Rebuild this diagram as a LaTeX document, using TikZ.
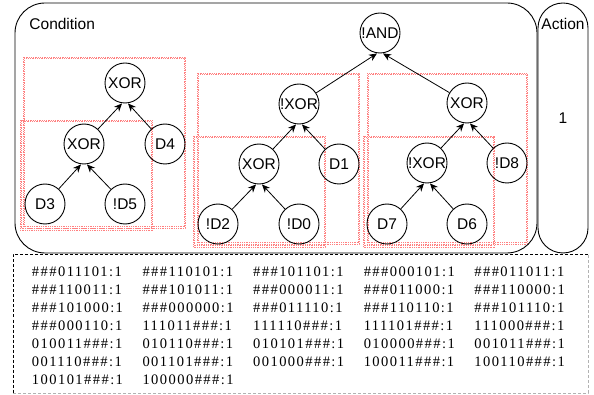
\documentclass[tikz,border=0pt]{standalone}
\usepackage{fontspec}
\setmainfont{Liberation Serif}
\setsansfont{Liberation Sans}
\newfontfamily\rulefont[LetterSpace=10]{Liberation Serif}
\usetikzlibrary{arrows.meta}

\begin{document}
\begin{tikzpicture}[x=1pt, y=-1pt, line width=0.9pt,
	gate/.style={circle, draw, minimum size=40pt, inner sep=0pt, font=\sffamily\fontsize{15.5}{18}\selectfont},
	arr/.style={-{Stealth[length=8pt, width=7pt, inset=2.5pt]}, line width=0.8pt},
	hl/.style={draw=red!50, line width=0.6pt, dash pattern=on 1pt off 0.8pt},
	lbl/.style={font=\sffamily\fontsize{15.5}{18}\selectfont, inner sep=0pt},
	rule/.style={font=\rulefont\fontsize{14.5}{17}\selectfont, inner sep=0pt, anchor=west}]
		\useasboundingbox (0,0) rectangle (594,395);

		% condition and action
		\draw[rounded corners=30pt] (15,3) rectangle (537,253);
		\draw[rounded corners=25pt] (538,3) rectangle (588,253);
		\node[lbl, anchor=west] (cond) at (29,24) {Condition};
		\node[lbl] (act) at (563,24) {Action};
		\node[lbl] (val) at (563,118) {1};

		% subtree boxes
		\foreach \xa/\ya/\xb/\yb in {23/57/185/228, 20/120/152/230, 197/73/359/244,
				193/136/325/247, 367/73/527/244, 363/136/494/247} {
			\draw[hl] (\xa,\ya) rectangle (\xb,\yb);
			\draw[hl] (\xa+1.2,\ya+1.2) rectangle (\xb-1.2,\yb-1.2);
		}

		% left tree
		\node[gate] (xa) at (125,83) {XOR};
		\node[gate] (xb) at (84,144) {XOR};
		\node[gate] (d4) at (165,144) {D4};
		\node[gate] (d3) at (45,204) {D3};
		\node[gate] (nd5) at (125,204) {!D5};
		\draw[arr] (xb) -- ([xshift=-3pt]xa.south);
		\draw[arr] (d4) -- ([xshift=3pt]xa.south);
		\draw[arr] (d3) -- ([xshift=-3pt]xb.south);
		\draw[arr] (nd5) -- ([xshift=3pt]xb.south);

		% right tree
		\node[gate] (nand) at (380,33) {!AND};
		\node[gate] (nxa) at (299,104) {!XOR};
		\node[gate] (xc) at (259,164) {XOR};
		\node[gate] (d1) at (339,164) {D1};
		\node[gate] (nd2) at (218,224) {!D2};
		\node[gate] (nd0) at (299,224) {!D0};
		\node[gate] (xd) at (467,103) {XOR};
		\node[gate] (nxb) at (427,163) {!XOR};
		\node[gate] (nd8) at (507,163) {!D8};
		\node[gate] (d7) at (387,224) {D7};
		\node[gate] (d6) at (467,224) {D6};
		\draw[arr] (nxa) -- ([xshift=-3pt]nand.south);
		\draw[arr] (xd) -- ([xshift=3pt]nand.south);
		\draw[arr] (xc) -- ([xshift=-3pt]nxa.south);
		\draw[arr] (d1) -- ([xshift=3pt]nxa.south);
		\draw[arr] (nd2) -- ([xshift=-3pt]xc.south);
		\draw[arr] (nd0) -- ([xshift=3pt]xc.south);
		\draw[arr] (nxb) -- ([xshift=-3pt]xd.south);
		\draw[arr] (nd8) -- ([xshift=3pt]xd.south);
		\draw[arr] (d7) -- ([xshift=-3pt]nxb.south);
		\draw[arr] (d6) -- ([xshift=3pt]nxb.south);

		% rule set
		\draw[dash pattern=on 3pt off 2pt] (588,254.5) -- (13,254.5) -- (13,393);
		\draw[dash pattern=on 3pt off 2pt, gray!60] (13,393) -- (588,393) -- (588,254.5);
		\foreach \t [count=\i from 0] in {\#\#\#011101:1, \#\#\#110101:1, \#\#\#101101:1, \#\#\#000101:1, \#\#\#011011:1,
				\#\#\#110011:1, \#\#\#101011:1, \#\#\#000011:1, \#\#\#011000:1, \#\#\#110000:1,
				\#\#\#101000:1, \#\#\#000000:1, \#\#\#011110:1, \#\#\#110110:1, \#\#\#101110:1,
				\#\#\#000110:1, 111011\#\#\#:1, 111110\#\#\#:1, 111101\#\#\#:1, 111000\#\#\#:1,
				010011\#\#\#:1, 010110\#\#\#:1, 010101\#\#\#:1, 010000\#\#\#:1, 001011\#\#\#:1,
				001110\#\#\#:1, 001101\#\#\#:1, 001000\#\#\#:1, 100011\#\#\#:1, 100110\#\#\#:1,
				100101\#\#\#:1, 100000\#\#\#:1}
			\node[rule] (r\i) at ({31.5+110.6*mod(\i,5)}, {272+17.9*int(\i/5)}) {\t};
	\end{tikzpicture}
\end{document}
